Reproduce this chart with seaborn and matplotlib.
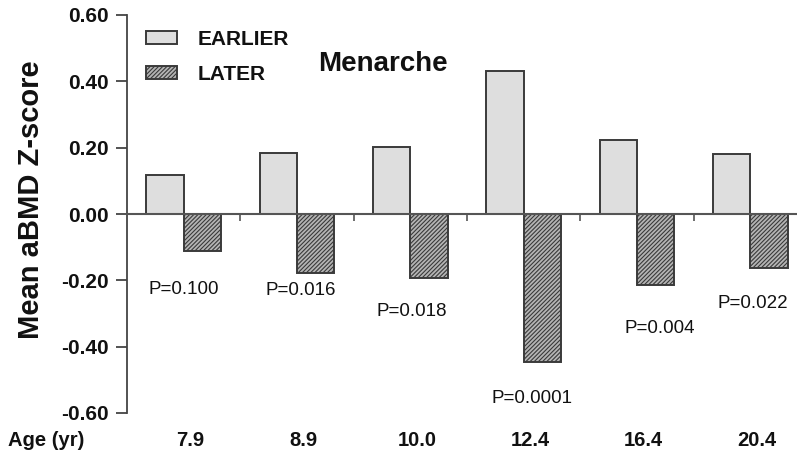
import matplotlib
matplotlib.use("Agg")
import matplotlib.pyplot as plt
import seaborn as sns
import pandas as pd
from matplotlib.transforms import blended_transform_factory

# Age groups and mean aBMD Z-scores by timing of menarche
ages = ["7.9", "8.9", "10.0", "12.4", "16.4", "20.4"]
earlier = [0.117, 0.183, 0.201, 0.432, 0.222, 0.180]
later = [-0.111, -0.177, -0.192, -0.447, -0.213, -0.162]
p_values = ["P=0.100", "P=0.016", "P=0.018", "P=0.0001", "P=0.004", "P=0.022"]
p_label_y = [-0.228, -0.231, -0.294, -0.556, -0.345, -0.270]
groups = ["EARLIER", "LATER"]

df = pd.DataFrame({
    "age": ages * 2,
    "z": earlier + later,
    "group": [groups[0]] * len(ages) + [groups[1]] * len(ages),
})

sns.set_theme(style="white")
plt.rcParams["font.family"] = ["Liberation Sans", "DejaVu Sans"]
plt.rcParams["hatch.linewidth"] = 0.8

fig = plt.figure(figsize=(7.97, 4.58), dpi=100)
ax = fig.add_axes([127 / 797, 1 - 413 / 458, 680 / 797, 398 / 458])

sns.barplot(
    data=df, x="age", y="z", hue="group", order=ages, hue_order=groups,
    palette={"EARLIER": "#dedede", "LATER": "#b4b4b4"}, saturation=1,
    width=0.66, edgecolor="#3a3a3a", linewidth=1.4, ax=ax,
)
for bar in ax.containers[1]:
    bar.set_hatch("////////")

ax.set_xlim(-0.5, 5.5)
ax.set_ylim(-0.6, 0.6)
ax.set_yticks([-0.6, -0.4, -0.2, 0.0, 0.2, 0.4, 0.6])
ax.set_yticklabels([f"{v:.2f}" for v in ax.get_yticks()],
                   fontsize=15, fontweight="bold", color="#111111")
ax.tick_params(axis="y", direction="out", length=8, width=1.3,
               color="#444444", pad=5, left=True)

# the horizontal axis runs along zero
ax.spines["bottom"].set_position(("data", 0))
ax.spines["bottom"].set_color("#555555")
ax.spines["bottom"].set_linewidth(1.5)
ax.spines["left"].set_color("#444444")
ax.spines["left"].set_linewidth(1.3)
ax.spines["top"].set_visible(False)
ax.spines["right"].set_visible(False)
ax.set_xticks([0.5, 1.5, 2.5, 3.5, 4.5])
ax.tick_params(axis="x", direction="out", length=5, width=1.2,
               color="#555555", labelbottom=False, bottom=True)
ax.set_xlabel("")
ax.set_ylabel("")
fig.text(31 / 797, 1 - 200 / 458, "Mean aBMD Z-score", rotation=90,
         ha="center", va="center", fontsize=21, fontweight="bold",
         color="#111111")

# age labels below the plot
tr = blended_transform_factory(ax.transData, fig.transFigure)
for i, a in enumerate(ages):
    ax.text(i + 0.06, 1 - 440 / 458, a, transform=tr, ha="center", va="center",
            fontsize=14.5, fontweight="bold", color="#111111")
fig.text(8 / 797, 1 - 440 / 458, "Age (yr)", ha="left", va="center",
         fontsize=14.5, fontweight="bold", color="#111111")

# p-values under each pair
p_offsets = [0.0, 0.03, 0.015, 0.07, 0.2, 0.02]
for i, (p, y) in enumerate(zip(p_values, p_label_y)):
    ax.text(i + p_offsets[i], y, p, ha="center", va="center",
            fontsize=13.5, color="#111111")

ax.text(383 / 797, 1 - 64 / 458, "Menarche", transform=fig.transFigure,
        ha="center", va="center", fontsize=20, fontweight="bold", color="#111111")

handles = [ax.containers[0][0], ax.containers[1][0]]
ax.legend(handles, groups, loc="upper left",
          bbox_to_anchor=(146 / 797, 1 - 30 / 458),
          bbox_transform=fig.transFigure, frameon=False, borderpad=0,
          borderaxespad=0, handlelength=1.5, handleheight=0.55,
          handletextpad=1.0, labelspacing=0.75,
          prop={"size": 15, "weight": "bold"}, labelcolor="#111111")

fig.savefig("out.png", dpi=100)
